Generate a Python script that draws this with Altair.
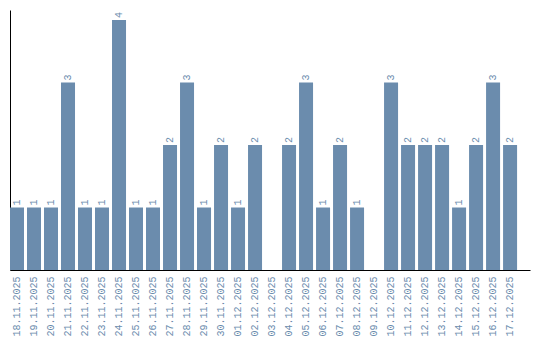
import altair as alt
import pandas as pd

dates = ["18.11.2025", "19.11.2025", "20.11.2025", "21.11.2025", "22.11.2025",
         "23.11.2025", "24.11.2025", "25.11.2025", "26.11.2025", "27.11.2025",
         "28.11.2025", "29.11.2025", "30.11.2025", "01.12.2025", "02.12.2025",
         "03.12.2025", "04.12.2025", "05.12.2025", "06.12.2025", "07.12.2025",
         "08.12.2025", "09.12.2025", "10.12.2025", "11.12.2025", "12.12.2025",
         "13.12.2025", "14.12.2025", "15.12.2025", "16.12.2025", "17.12.2025"]
counts = [1, 1, 1, 3, 1, 1, 4, 1, 1, 2,
          3, 1, 2, 1, 2, 0, 2, 3, 1, 2,
          1, 0, 3, 2, 2, 2, 1, 2, 3, 2]

df = pd.DataFrame({"date": dates, "count": counts})
df["label"] = df["count"].apply(lambda v: str(v) if v > 0 else "")

COLOR = "#6b8cad"
FONT = "Liberation Mono"

x = alt.X("date:N", sort=None, title=None,
          scale=alt.Scale(paddingInner=0.176, paddingOuter=0.38, align=0),
          axis=alt.Axis(labelAngle=-90, labelColor=COLOR, labelFont=FONT,
                        labelFontSize=10, ticks=False, labelPadding=6,
                        domainColor="black", domainWidth=1, grid=False))
y = alt.Y("count:Q", title=None,
          scale=alt.Scale(domain=[0, 4.16], nice=False),
          axis=alt.Axis(labels=False, ticks=False, grid=False,
                        domainColor="black", domainWidth=1))

bars = alt.Chart(df).mark_bar(color=COLOR).encode(x=x, y=y)
text = alt.Chart(df).mark_text(angle=270, align="left", baseline="middle",
                               dx=2, color=COLOR, font=FONT, fontSize=10).encode(
    x=alt.X("date:N", sort=None), y="count:Q", text="label:N")

chart = (bars + text).properties(
    width=520, height=260,
    background="white",
    autosize=alt.AutoSizeParams(type="none"),
    padding={"left": 10, "top": 10, "right": 10, "bottom": 70},
).configure_view(stroke=None)

chart.save("out.html", embed_options={"renderer": "svg", "actions": False})
